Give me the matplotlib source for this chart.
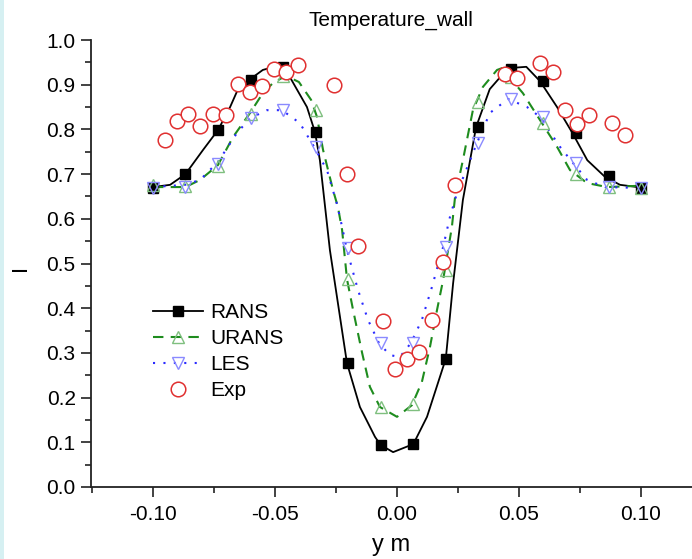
import matplotlib
matplotlib.use("Agg")
import matplotlib.pyplot as plt
from matplotlib.lines import Line2D
from matplotlib.patches import Rectangle
from matplotlib.ticker import MultipleLocator

plt.rcParams['font.family'] = ['Liberation Sans', 'DejaVu Sans']

# ---- data ----
marker_x = [-0.1, -0.0867, -0.0733, -0.06, -0.0467, -0.0333, -0.02, -0.0067,
            0.0067, 0.02, 0.0333, 0.0467, 0.06, 0.0733, 0.0867, 0.1]

rans_mk = [0.670, 0.700, 0.798, 0.910, 0.940, 0.794, 0.277, 0.094,
           0.096, 0.287, 0.805, 0.935, 0.908, 0.792, 0.695, 0.670]
urans_mk = [0.675, 0.673, 0.718, 0.835, 0.920, 0.843, 0.465, 0.178,
            0.186, 0.485, 0.862, 0.918, 0.815, 0.700, 0.671, 0.670]
les_mk = [0.668, 0.672, 0.722, 0.825, 0.843, 0.761, 0.535, 0.322,
          0.322, 0.537, 0.770, 0.868, 0.828, 0.725, 0.671, 0.668]

rans_x = [-0.100, -0.093, -0.0867, -0.0795, -0.0733, -0.0684, -0.065, -0.060, -0.055,
          -0.049, -0.0439, -0.0369, -0.0336, -0.0316, -0.0275, -0.0205, -0.0152,
          -0.009, -0.0067, -0.0016, 0.0067, 0.0123, 0.020, 0.023, 0.027, 0.0324,
          0.038, 0.0455, 0.053, 0.0586, 0.0656, 0.0721, 0.078, 0.0852, 0.0914, 0.100]
rans_y = [0.671, 0.676, 0.700, 0.754, 0.799, 0.850, 0.892, 0.913, 0.933,
          0.942, 0.917, 0.850, 0.794, 0.731, 0.530, 0.277, 0.179,
          0.112, 0.094, 0.078, 0.096, 0.157, 0.287, 0.456, 0.642, 0.805,
          0.890, 0.937, 0.940, 0.908, 0.850, 0.790, 0.731, 0.694, 0.676, 0.670]

urans_x = [-0.100, -0.0867, -0.0807, -0.0734, -0.0672, -0.0602, -0.055, -0.0508,
           -0.0455, -0.0402, -0.0352, -0.0328, -0.0303, -0.0262, -0.0242, -0.0225,
           -0.0205, -0.0180, -0.0143, -0.0111, -0.0070, 0.0, 0.0061, 0.0102,
           0.0135, 0.0164, 0.0189, 0.0225, 0.0238, 0.027, 0.0311, 0.0352, 0.041,
           0.043, 0.0516, 0.0586, 0.0656, 0.0709, 0.0779, 0.0861, 0.100]
urans_y = [0.671, 0.671, 0.687, 0.720, 0.783, 0.837, 0.881, 0.904,
           0.920, 0.906, 0.866, 0.828, 0.754, 0.664, 0.626, 0.575,
           0.465, 0.396, 0.300, 0.224, 0.179, 0.157, 0.183, 0.235,
           0.313, 0.396, 0.463, 0.582, 0.649, 0.731, 0.843, 0.895, 0.933,
           0.937, 0.881, 0.821, 0.761, 0.709, 0.680, 0.671, 0.674]

les_x = [-0.100, -0.0869, -0.0807, -0.0734, -0.0656, -0.0602, -0.0533, -0.0471,
         -0.0398, -0.034, -0.0287, -0.0246, -0.0225, -0.0205, -0.016, -0.0119,
         -0.0074, -0.0029, 0.0012, 0.0057, 0.0102, 0.0143, 0.0189, 0.0217,
         0.0246, 0.0328, 0.0381, 0.0455, 0.0533, 0.0586, 0.0668, 0.0721,
         0.0779, 0.0852, 0.100]
les_y = [0.671, 0.676, 0.687, 0.727, 0.792, 0.825, 0.843, 0.843,
         0.814, 0.761, 0.709, 0.633, 0.582, 0.530, 0.441, 0.374,
         0.322, 0.295, 0.291, 0.322, 0.374, 0.447, 0.537, 0.604,
         0.658, 0.770, 0.837, 0.868, 0.850, 0.828, 0.761, 0.725,
         0.687, 0.671, 0.669]

exp_x = [-0.0951, -0.0902, -0.0857, -0.0807, -0.0754, -0.0701, -0.0652, -0.0602,
         -0.0553, -0.0504, -0.0455, -0.0406, -0.0258, -0.0205, -0.016, -0.0057,
         -0.0008, 0.004, 0.009, 0.0143, 0.0189, 0.0238, 0.0443, 0.049, 0.0586,
         0.064, 0.0689, 0.0738, 0.0787, 0.088, 0.0934]
exp_y = [0.776, 0.819, 0.834, 0.808, 0.834, 0.832, 0.902, 0.884,
         0.897, 0.935, 0.928, 0.944, 0.899, 0.700, 0.539, 0.371,
         0.264, 0.286, 0.302, 0.374, 0.503, 0.676, 0.924, 0.915, 0.949,
         0.928, 0.843, 0.812, 0.832, 0.814, 0.787]

x_ticks = [-0.10, -0.05, 0.00, 0.05, 0.10]
y_ticks = [0.0, 0.1, 0.2, 0.3, 0.4, 0.5, 0.6, 0.7, 0.8, 0.9, 1.0]

# ---- styling ----
c_rans = 'black'
c_urans = '#1e8c1e'
c_urans_mk = '#7fbf7f'
c_les = '#2a2aff'
c_les_mk = '#8a8aff'
c_exp = '#e03030'

W, H = 692, 559
AX_L, AX_B, AX_T = 91, 487, 40

fig = plt.figure(figsize=(W / 100, H / 100), dpi=100)
fig.patches.append(Rectangle((0, 0), 4 / W, 1, transform=fig.transFigure,
                             facecolor='#d6f0f2', edgecolor='none', zorder=0))
ax = fig.add_axes([AX_L / W, 1 - AX_B / H, 1 - AX_L / W, (AX_B - AX_T) / H])

ax.plot(rans_x, rans_y, color=c_rans, lw=1.3, zorder=3)
ax.plot(marker_x, rans_mk, ls='none', marker='s', ms=6.5, color=c_rans, zorder=4)

ax.plot(urans_x, urans_y, color=c_urans, lw=1.5, ls=(0, (5, 3.5)), zorder=3)
ax.plot(marker_x, urans_mk, ls='none', marker='^', ms=9, mfc='none',
        mec=c_urans_mk, mew=1.0, zorder=4)

ax.plot(les_x, les_y, color=c_les, lw=1.5, ls=(0, (1, 4)), zorder=3)
ax.plot(marker_x, les_mk, ls='none', marker='v', ms=9, mfc='none',
        mec=c_les_mk, mew=1.0, zorder=4)

ax.plot(exp_x, exp_y, ls='none', marker='o', ms=10.5, mfc='white',
        mec=c_exp, mew=1.1, zorder=5)

ax.set_xlim((AX_L - 397) / 2440, (W - 397) / 2440)
ax.set_ylim(0, 1.0)
ax.set_xticks(x_ticks)
ax.set_xticklabels([f"{v:.2f}" for v in x_ticks])
ax.set_yticks(y_ticks)
ax.set_yticklabels([f"{v:.1f}" for v in y_ticks])
ax.xaxis.set_minor_locator(MultipleLocator(0.025))
ax.yaxis.set_minor_locator(MultipleLocator(0.05))
ax.tick_params(which='major', direction='out', length=7, width=1.2,
               labelsize=15, colors='#222222')
ax.tick_params(axis='x', which='major', pad=6)
ax.tick_params(axis='y', which='major', pad=4)
ax.tick_params(which='minor', direction='out', length=4, width=1.2, colors='#222222')
ax.tick_params(labelcolor='black')
for s in ['top', 'right']:
    ax.spines[s].set_visible(False)
for s in ['left', 'bottom']:
    ax.spines[s].set_linewidth(1.3)
    ax.spines[s].set_color('#222222')

ax.set_xlabel('y m', fontsize=17, labelpad=7)
fig.text(20 / W, 1 - 268 / H, 'I', rotation=90, fontsize=16,
         ha='center', va='center')
fig.text(391 / W, 1 - 20 / H, 'Temperature_wall', fontsize=15,
         ha='center', va='center')

handles = [
    Line2D([], [], color=c_rans, lw=1.3, marker='s', ms=6.5),
    Line2D([], [], color=c_urans, lw=1.5, ls=(0, (5, 3.5)), marker='^', ms=9,
           mfc='none', mec=c_urans_mk),
    Line2D([], [], color=c_les, lw=1.5, ls=(0, (1, 4)), marker='v', ms=9,
           mfc='none', mec=c_les_mk),
    Line2D([], [], ls='none', marker='o', ms=10.5, mfc='white', mec=c_exp, mew=1.1),
]
ax_w = W - AX_L
ax_h = AX_B - AX_T
ax.legend(handles, ['RANS', 'URANS', 'LES', 'Exp'], loc='upper left',
          bbox_to_anchor=((143 - AX_L) / ax_w, (AX_B - 293) / ax_h), frameon=False,
          fontsize=15, handlelength=2.4, handletextpad=0.35,
          labelspacing=0.33, borderpad=0)

fig.savefig('out.png', dpi=100)
